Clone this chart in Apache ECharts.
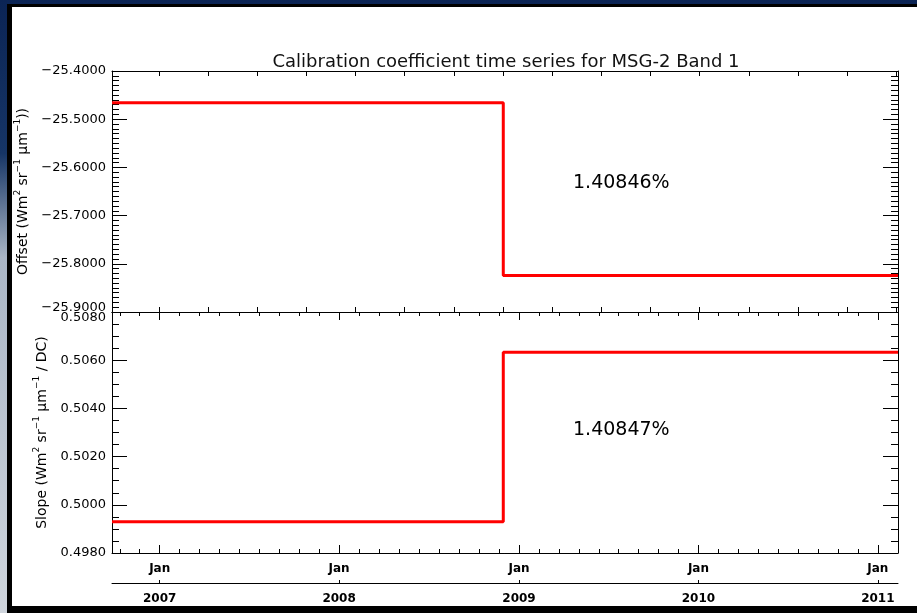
<!DOCTYPE html>
<html>
<head>
<meta charset="utf-8">
<script src="https://cdn.jsdelivr.net/npm/echarts@6/dist/echarts.min.js"></script>
<style>
html,body{margin:0;padding:0;width:917px;height:613px;overflow:hidden;
background:linear-gradient(to bottom,#0b2455 0%,#163566 25%,#aab6c6 42%,#cfd5dd 100%);}
#frame{position:absolute;left:7px;top:4px;width:910px;height:609px;background:#000;}
#panel{position:absolute;left:12px;top:7px;width:905px;height:599px;background:#fff;}
#chart{position:absolute;left:0;top:0;width:917px;height:613px;}
</style>
</head>
<body>
<div id="frame"></div>
<div id="panel"></div>
<div id="chart"></div>
<script>
// ---- data ----
const titleText = 'Calibration coefficient time series for MSG-2 Band 1';
const dates = ['2006-09-26', '2008-11-30', '2011-02-11'];   // start, change date, end
const offsetValues = [-25.4658, -25.8245];
const slopeValues = [0.49930, 0.50633];
const offsetChange = '1.40846%';
const slopeChange = '1.40847%';
const yearTicks = [2007, 2008, 2009, 2010, 2011];
const monthLabel = 'Jan';
const offsetName = '{n|Offset (Wm}{s|2}{n| sr}{s|\u22121}{n| \u03BCm}{s|\u22121}{n|))}';
const slopeName = '{n|Slope (Wm}{s|2}{n| sr}{s|\u22121}{n| \u03BCm}{s|\u22121}{n| / DC)}';

// ---- helpers ----
const ts = s => { const p = s.split('-').map(Number); return Date.UTC(p[0], p[1]-1, p[2]); };
const xMin = ts(dates[0]), xMax = ts(dates[2]);
const janTicks = yearTicks.map(y => Date.UTC(y, 0, 1));
const ninthTicks = [];
for (let y = 2006; y <= 2011; y++) {
  const a = Date.UTC(y,0,1), b = Date.UTC(y+1,0,1);
  for (let k = 0; k < 9; k++) { const t = a + k*(b-a)/9; if (t >= xMin && t <= xMax) ninthTicks.push(t); }
}
const jd0 = 2440587.5, DAY = 86400000;
const jdTicks = [];
for (let jd = Math.ceil((xMin/DAY + jd0)/100)*100; (jd - jd0)*DAY <= xMax; jd += 100) jdTicks.push((jd - jd0)*DAY);

const offsetData = [[xMin, offsetValues[0]], [ts(dates[1]), offsetValues[1]], [xMax, offsetValues[1]]];
const slopeData = [[xMin, slopeValues[0]], [ts(dates[1]), slopeValues[1]], [xMax, slopeValues[1]]];

const FONT = 'DejaVu Sans';
const blackLine = {show: true, lineStyle: {color: '#000', width: 1}};

function xa(grid, pos, ticks, len, opts) {
  return Object.assign({
    type: 'value', gridIndex: grid, position: pos, min: xMin, max: xMax, scale: true,
    axisLine: blackLine,
    axisTick: {show: true, inside: true, length: len, customValues: ticks, lineStyle: {color: '#000'}},
    axisLabel: {show: false},
    splitLine: {show: false}
  }, opts || {});
}
const fmt = v => (v < 0 ? '\u2212' : '') + Math.abs(v).toFixed(4);
function ya(grid, pos, min, max, interval, minorSplit, showLabel, name, nameGap, shiftEnd) {
  return {
    type: 'value', gridIndex: grid, position: pos, min: min, max: max, interval: interval,
    axisLine: blackLine,
    axisTick: {show: true, inside: true, length: 15, lineStyle: {color: '#000'}},
    minorTick: {show: true, splitNumber: minorSplit, length: 7, lineStyle: {color: '#000'}},
    splitLine: {show: false}, minorSplitLine: {show: false},
    axisLabel: {show: showLabel, margin: 6, color: '#000', fontFamily: FONT, fontSize: 13,
      formatter: v => {
        if (shiftEnd === 'min' && Math.abs(v - min) < 1e-9) return '{up|' + fmt(v) + '}';
        if (shiftEnd === 'max' && Math.abs(v - max) < 1e-9) return '{dn|' + fmt(v) + '}';
        return fmt(v);
      },
      rich: {
        up: {color: '#000', fontFamily: FONT, fontSize: 13, padding: [0, 0, 9, 0]},
        dn: {color: '#000', fontFamily: FONT, fontSize: 13, padding: [11, 0, 0, 0]}
      }},
    name: name || '', nameLocation: 'middle', nameGap: nameGap || 0, nameRotate: 90,
    nameTextStyle: {color: '#000', fontFamily: FONT, fontSize: 14,
      rich: {
        n: {color: '#000', fontFamily: FONT, fontSize: 14, lineHeight: 17, verticalAlign: 'bottom'},
        s: {color: '#000', fontFamily: FONT, fontSize: 9, lineHeight: 10, verticalAlign: 'top'}
      }}
  };
}

const chart = echarts.init(document.getElementById('chart'), null, {renderer: 'canvas'});
chart.setOption({
  backgroundColor: 'transparent',
  animation: false,
  title: {text: titleText, left: 501, top: 48, textAlign: 'center',
    textStyle: {fontFamily: FONT, fontSize: 18, fontWeight: 'normal', color: '#111'}},
  grid: [
    {left: 112, right: 19, top: 71, height: 241},
    {left: 112, right: 19, top: 312, height: 241}
  ],
  xAxis: [
    xa(0, 'bottom', jdTicks, 5),
    xa(0, 'top', jdTicks, 5),
    xa(1, 'bottom', janTicks, 8, {axisLabel: {show: true, customValues: janTicks, margin: 10,
      color: '#000', fontFamily: FONT, fontSize: 12, fontWeight: 'bold', formatter: () => monthLabel}}),
    xa(1, 'bottom', ninthTicks, 4, {axisLine: {show: false}}),
    xa(1, 'top', janTicks, 8),
    xa(1, 'top', ninthTicks, 4, {axisLine: {show: false}}),
    xa(1, 'bottom', janTicks, 3, {offset: 30, axisLabel: {show: true, customValues: janTicks, margin: 10,
      color: '#000', fontFamily: FONT, fontSize: 12, fontWeight: 'bold',
      formatter: v => String(new Date(v).getUTCFullYear())}})
  ],
  yAxis: [
    ya(0, 'left', -25.9, -25.4, 0.1, 10, true, offsetName, 75, 'min'),
    ya(0, 'right', -25.9, -25.4, 0.1, 10, false),
    ya(1, 'left', 0.498, 0.508, 0.002, 4, true, slopeName, 58, 'max'),
    ya(1, 'right', 0.498, 0.508, 0.002, 4, false)
  ],
  series: [
    {type: 'line', xAxisIndex: 0, yAxisIndex: 0, data: offsetData, step: 'end', symbol: 'none',
      lineStyle: {color: '#ff0000', width: 3}, z: 5},
    {type: 'line', xAxisIndex: 2, yAxisIndex: 2, data: slopeData, step: 'end', symbol: 'none',
      lineStyle: {color: '#ff0000', width: 3}, z: 5}
  ],
  graphic: [
    {type: 'text', left: 573, top: 174, style: {text: offsetChange, fill: '#000', font: '19px "DejaVu Sans"'}},
    {type: 'text', left: 573, top: 421, style: {text: slopeChange, fill: '#000', font: '19px "DejaVu Sans"'}}
  ]
});
</script>
</body>
</html>
